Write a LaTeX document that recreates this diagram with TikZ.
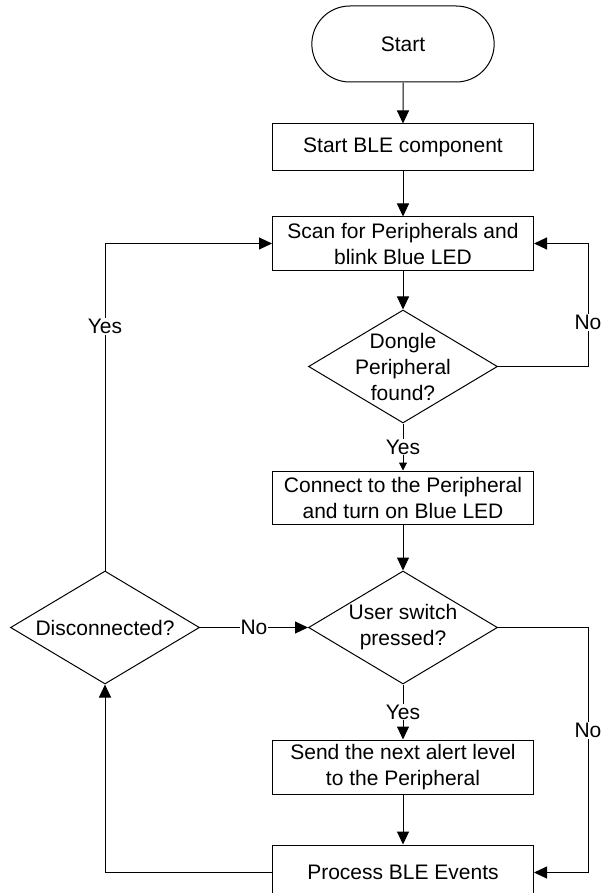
\documentclass[tikz,border=0pt]{standalone}
\usepackage{fontspec}
\setmainfont{Liberation Sans}
\usepackage{tikz}
\usetikzlibrary{arrows.meta,positioning,shapes.misc,shapes.geometric}

\begin{document}
\begin{tikzpicture}[
			font=\fontsize{21}{26}\selectfont,
			line width=1pt,
			terminal/.style={
					draw, rounded rectangle,
					minimum width=189pt, minimum height=76pt
				},
			process/.style={
					draw, align=center, inner sep=4pt,
					minimum width=261pt, minimum height=53pt
				},
			decision/.style={
					draw, diamond, inner sep=0pt,
					minimum width=189pt, minimum height=113pt
				},
			lbl/.style={fill=white, inner sep=1pt},
			flow/.style={-{Triangle[length=13pt,width=12pt]}},
			shortflow/.style={-{Triangle[length=8pt,width=8pt]}}
		]

		\useasboundingbox (0,0) rectangle (600pt,-893pt);

		% Main column
		\node[terminal] (start) at (403pt,-44pt) {Start};
		\node[process, minimum height=47pt, below=41pt of start] (startble) {Start BLE component};
		\node[process, below=45pt of startble] (scan) {Scan for Peripherals and\\blink Blue LED};
		\node[decision, below=39pt of scan] (dongle) {};
		\node[align=center] (dongletext) at (dongle) {Dongle\\Peripheral\\found?};
		\node[process, below=47pt of dongle] (connect) {Connect to the Peripheral\\and turn on Blue LED};
		\node[decision, below=46pt of connect] (user) {};
		\node[align=center] (usertext) at (user) {User switch\\pressed?};
		\node[process, minimum height=54pt, below=55pt of user] (send) {Send the next alert level\\to the Peripheral};
		\node[process, minimum height=55pt, below=50pt of send] (events) {Process BLE Events};

		% Left decision
		\node[decision, left=108pt of user] (disc) {};
		\node (disctext) at (disc) {Disconnected?};

		% Right return line
		\coordinate (rail) at (588pt,0);

		% Straight flow
		\draw[flow] (start) -- (startble);
		\draw[flow] (startble) -- (scan);
		\draw[flow] (scan) -- (dongle);
		\draw[shortflow] (dongle) -- node[lbl]{Yes} (connect);
		\draw[flow] (connect) -- (user);
		\draw[flow] (user) -- node[lbl]{Yes} (send);
		\draw[flow] (send) -- (events);

		% Not found: scan again
		\draw[flow] (dongle.east) -- (dongle.east -| rail)
		-- node[lbl, pos=0.36]{No} (scan.east -| rail) -- (scan.east);

		% Switch not pressed
		\draw[flow] (user.east) -- (user.east -| rail)
		-- node[lbl, pos=0.42]{No} (events.east -| rail) -- (events.east);

		% Events -> Disconnected?
		\draw[flow] (events.west) -| (disc.south);

		% Disconnected: Yes / No
		\draw[flow] (disc.north) -- node[lbl, pos=0.747]{Yes} (disc.north |- scan.west) -- (scan.west);
		\draw[flow] (disc.east) -- node[lbl]{No} (user.west);

	\end{tikzpicture}
\end{document}
